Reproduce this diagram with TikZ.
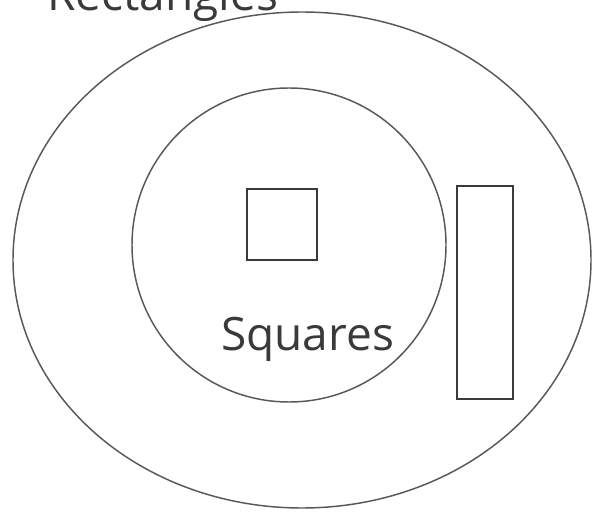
\documentclass[tikz,border=0pt]{standalone}
\usepackage{fontspec}
\setmainfont{Open Sans}
\usetikzlibrary{positioning,shapes.geometric}
\definecolor{ink}{HTML}{3A3A3A}
\tikzset{
  ring/.style  ={draw=ink!85,line width=1.1pt},
  shp/.style   ={draw=ink,line width=1.6pt,inner sep=0pt},
  lbl/.style   ={font=\fontsize{34.5}{34.5}\selectfont,text=ink,inner sep=0pt,anchor=base west},
}
\begin{document}
\begin{tikzpicture}[x=0.75pt,y=-0.75pt]
  \clip (0,0) rectangle (596,513);
  \useasboundingbox (0,0) rectangle (596,513);

  % --- sets ---
  \node[ring,ellipse,inner sep=0pt,minimum width=578*0.75pt,minimum height=496*0.75pt] (rect) at (302,260) {};
  \node[ring,circle,inner sep=0pt,minimum size=314*0.75pt] (sq) at (289,245) {};

  % --- members ---
  \node[shp,minimum width=70*0.75pt,minimum height=71*0.75pt] (square) at (282,224.5) {};
  \node[shp,minimum width=56*0.75pt,minimum height=213*0.75pt] (bar) at (485,292.5) {};

  % --- labels ---
  \node[lbl] (rectlbl) at (47,11) {Rectangles};
  \node[lbl] (sqlbl) at (221,350) {Squares};
\end{tikzpicture}
\end{document}
